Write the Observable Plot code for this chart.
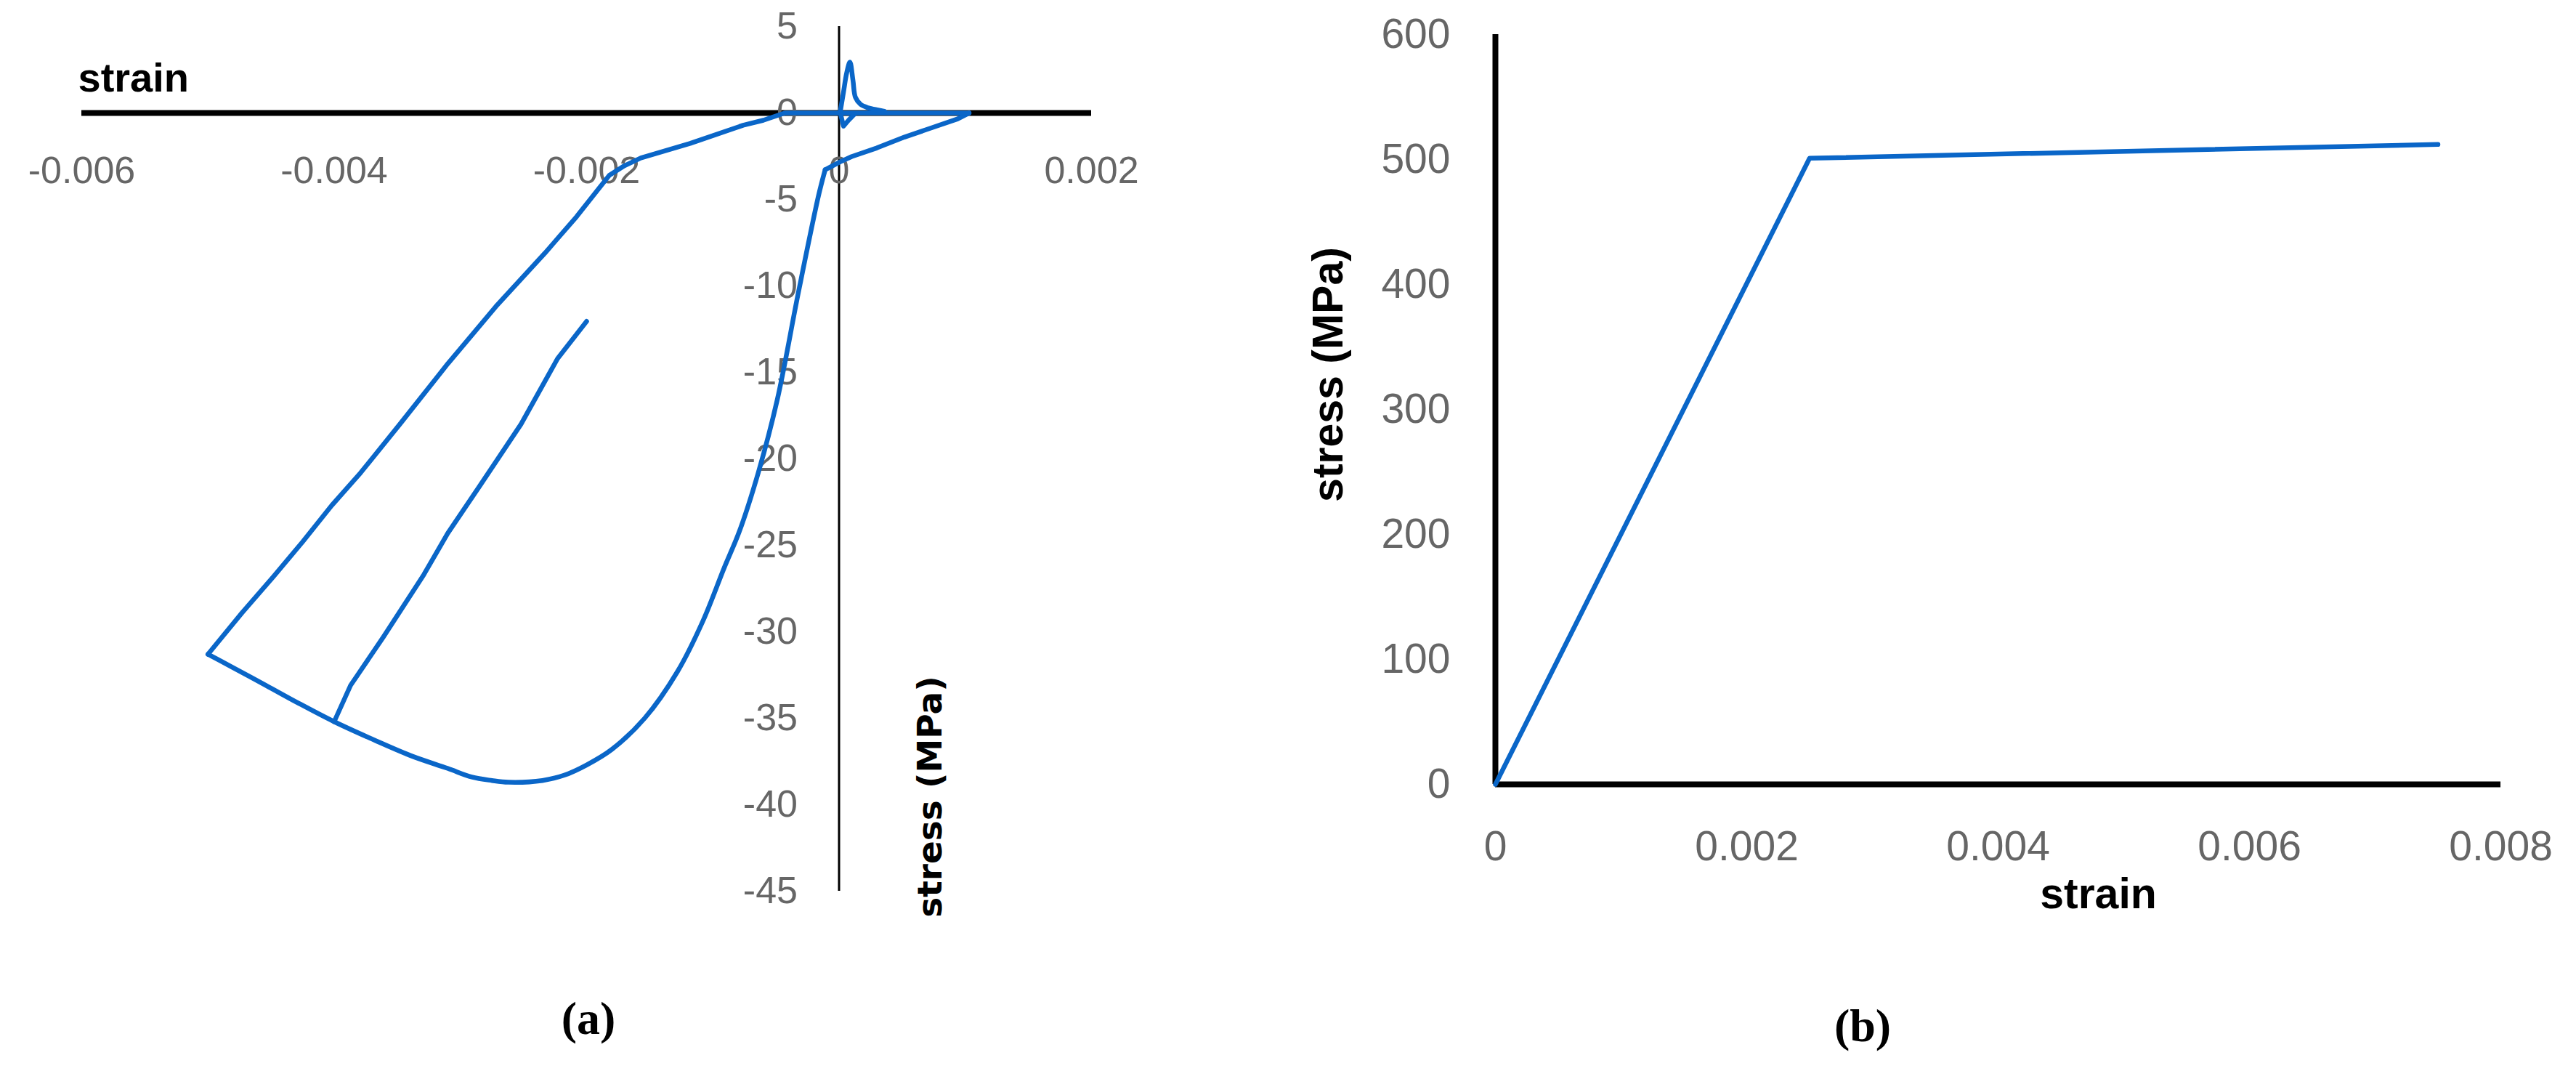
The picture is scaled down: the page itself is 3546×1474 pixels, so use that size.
<!DOCTYPE html>
<html><head><meta charset="utf-8">
<script src="https://cdn.jsdelivr.net/npm/d3@7"></script>
<script src="https://cdn.jsdelivr.net/npm/@observablehq/plot@0.6"></script>
<style>
html,body{margin:0;padding:0;background:#fff;}
#page{position:relative;width:3546px;height:1474px;overflow:hidden;background:#fff;}
#pa{position:absolute;left:0;top:0;}
#pb{position:absolute;left:1750px;top:0;}
.cap{position:absolute;font-family:"Liberation Serif","Times New Roman",serif;font-weight:bold;font-size:64px;line-height:1;transform:translate(-50%,-50%);color:#000;white-space:nowrap;}
</style></head><body>
<div id="page"><div id="pa"></div><div id="pb"></div>
<div class="cap" style="left:810px;top:1402px">(a)</div>
<div class="cap" style="left:2564px;top:1412px">(b)</div>
</div>
<script>
// ---- Panel (a): concrete cyclic stress-strain ----
const xTicksA = [-0.006, -0.004, -0.002, 0, 0.002];
const yTicksA = [5, 0, -5, -10, -15, -20, -25, -30, -35, -40, -45];
const xLabelA = "strain";
const yLabelA = "stress (MPa)";

// [strain, stress (MPa)] — straight-ish branches
const unloadRight = [
  [0.00103, 0], [0.00094, -0.34], [0.00074, -0.84], [0.00052, -1.39], [0.0003, -2.02],
  [0.0001, -2.52], [0.00001, -2.82], [-0.000075, -3.15], [-0.00011, -3.28]
];
// smooth compressive envelope
const envelope = [
  [-0.00011, -3.28], [-0.00016, -4.7], [-0.00032, -10.3], [-0.00049, -16.6], [-0.00064, -20.8],
  [-0.00079, -24.2], [-0.00091, -26.3], [-0.00108, -29.4], [-0.00128, -32.3], [-0.00154, -35.0],
  [-0.0018, -36.8], [-0.002, -37.7], [-0.00218, -38.3], [-0.00235, -38.6], [-0.00262, -38.7],
  [-0.00275, -38.6], [-0.00291, -38.4], [-0.0031, -37.9], [-0.00338, -37.2], [-0.00367, -36.3],
  [-0.004, -35.2], [-0.00429, -34.1], [-0.00454, -33.1], [-0.00482, -32.0], [-0.005, -31.3]
];
const unloadLeft = [
  [-0.005, -31.3], [-0.00473, -28.9], [-0.00448, -26.8], [-0.00425, -24.8], [-0.00402, -22.7],
  [-0.00379, -20.8], [-0.00348, -18.0], [-0.0031, -14.5], [-0.00272, -11.2], [-0.00233, -8.1],
  [-0.00208, -6.0], [-0.00182, -3.6], [-0.0017, -3.05], [-0.00157, -2.6], [-0.00118, -1.76],
  [-0.00076, -0.71], [-0.0006, -0.42], [-0.00043, 0], [0.00103, 0]
];
const reloadBranch = [
  [-0.004, -35.2], [-0.00387, -33.1], [-0.00361, -30.3], [-0.00329, -26.7], [-0.0031, -24.3],
  [-0.00285, -21.6], [-0.00252, -18.0], [-0.00223, -14.2], [-0.002, -12.05]
];
const tensionSpike = [
  [0.00001, 0.1], [0.000035, 1.2], [0.00006, 2.3], [0.000086, 2.94], [0.00011, 1.9],
  [0.00013, 0.9], [0.00017, 0.5], [0.00023, 0.3], [0.00031, 0.17], [0.00036, 0.1]
];
const tensionDip = [
  [0.00001, 0], [0.000035, -0.76], [0.000075, -0.42], [0.00012, -0.08]
];

// ---- Panel (b): steel bilinear ----
const xTicksB = [0, 0.002, 0.004, 0.006, 0.008];
const yTicksB = [0, 100, 200, 300, 400, 500, 600];
const strainB = [0, 0.0025, 0.0075];
const stressB = [0, 501, 512];
const xLabelB = "strain";
const yLabelB = "stress (MPa)";

const blue = "#0a66c8";
const tickGray = "#666666";
const font = "'Liberation Sans', Arial, sans-serif";

function toRows(groups) {
  const rows = [];
  for (const [name, pts] of groups) for (const [s, t] of pts) rows.push({branch: name, strain: s, stress: t});
  return rows;
}
const straightA = toRows([["unloadRight", unloadRight], ["unloadLeft", unloadLeft], ["reload", reloadBranch], ["dip", tensionDip]]);
const smoothA = toRows([["envelope", envelope], ["spike", tensionSpike]]);
const tableB = strainB.map((s, i) => ({strain: s, stress: stressB[i]}));

const lineStyle = {x: "strain", y: "stress", stroke: blue, strokeWidth: 6.5, strokeLinejoin: "round", strokeLinecap: "round"};

const plotA = Plot.plot({
  width: 1750, height: 1320,
  marginLeft: 112, marginRight: 248, marginTop: 36, marginBottom: 94,
  x: {domain: [-0.006, 0.002], axis: null},
  y: {domain: [-45, 5], axis: null},
  style: {fontFamily: font, background: "transparent", overflow: "visible"},
  marks: [
    Plot.ruleY([0], {stroke: "#000", strokeWidth: 8}),
    Plot.ruleX([0], {stroke: "#000", strokeWidth: 3}),
    Plot.text(xTicksA, {x: d => d, text: d => String(d), frameAnchor: "top", dy: 199, lineAnchor: "middle", fontSize: 52, fill: tickGray}),
    Plot.text(yTicksA, {x: () => 0, y: d => d, text: d => String(d), dx: -57, textAnchor: "end", lineAnchor: "middle", fontSize: 52, fill: tickGray}),
    Plot.line(straightA, {...lineStyle, z: "branch"}),
    Plot.line(smoothA, {...lineStyle, z: "branch", curve: "catmull-rom"}),
    Plot.text([xLabelA], {frameAnchor: "top-left", dx: -5, dy: 89, textAnchor: "start", lineAnchor: "bottom", fontWeight: "bold", fontSize: 56, fill: "#000"}),
    Plot.text([yLabelA], {x: () => 0, frameAnchor: "bottom", dx: 141, dy: -130, rotate: -90, textAnchor: "middle", lineAnchor: "bottom", fontFamily: "'DejaVu Sans', sans-serif", fontWeight: "bold", fontSize: 47, fill: "#000"})
  ]
});
document.getElementById("pa").append(plotA);

const plotB = Plot.plot({
  width: 1796, height: 1320,
  marginLeft: 308, marginRight: 104, marginTop: 47, marginBottom: 241,
  x: {domain: [0, 0.008], axis: null},
  y: {domain: [0, 600], axis: null},
  style: {fontFamily: font, background: "transparent", overflow: "visible"},
  marks: [
    Plot.ruleY([0], {stroke: "#000", strokeWidth: 8}),
    Plot.ruleX([0], {stroke: "#000", strokeWidth: 8}),
    Plot.text(xTicksB, {x: d => d, text: d => String(d), frameAnchor: "bottom", dy: 86, lineAnchor: "middle", fontSize: 57, fill: tickGray}),
    Plot.text(yTicksB, {x: () => 0, y: d => d, text: d => String(d), dx: -62, textAnchor: "end", lineAnchor: "middle", fontSize: 57, fill: tickGray}),
    Plot.line(tableB, lineStyle),
    Plot.text([xLabelB], {frameAnchor: "bottom", dx: 138, dy: 170, lineAnchor: "bottom", fontWeight: "bold", fontSize: 59, fill: "#000"}),
    Plot.text([yLabelB], {frameAnchor: "left", dx: -211, dy: -48, rotate: -90, textAnchor: "middle", lineAnchor: "bottom", fontWeight: "bold", fontSize: 59, fill: "#000"})
  ]
});
document.getElementById("pb").append(plotB);
</script>
</body></html>
